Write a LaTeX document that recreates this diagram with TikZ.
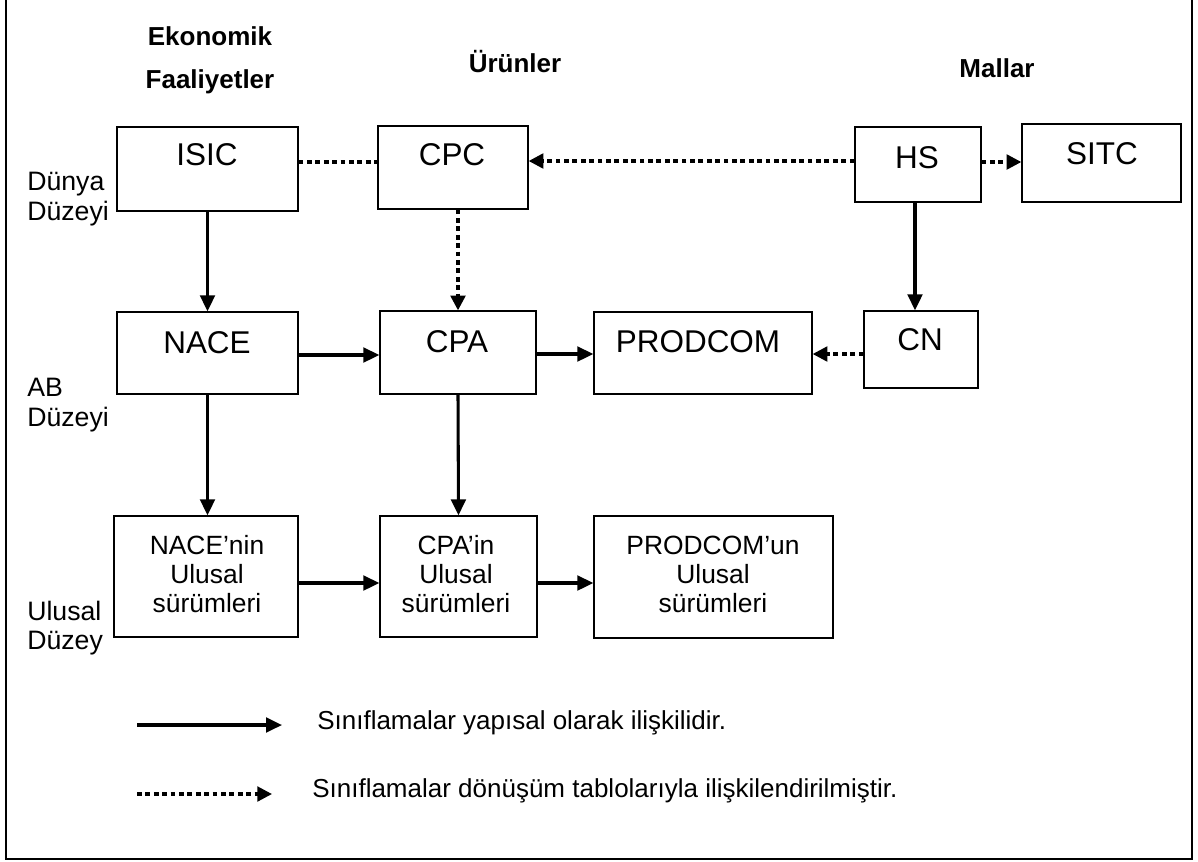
\documentclass[tikz,border=0pt]{standalone}
\usepackage{fontspec}
\setmainfont{Liberation Sans}
\usetikzlibrary{arrows.meta,calc}
\tikzset{
  bx/.style 2 args={draw, line width=1pt, inner sep=0pt, minimum width=#1*0.75pt, minimum height=#2*0.75pt},
  big/.style={font=\fontsize{23.6}{28}\selectfont, inner sep=0pt},
  small/.style={font=\fontsize{19.8}{21.8}\selectfont, align=center, inner sep=0pt},
  lvl/.style={font=\fontsize{20}{22}\selectfont, align=left, inner sep=0pt, anchor=west},
  head/.style={font=\fontsize{19.5}{22}\selectfont\bfseries, inner sep=0pt},
  leg/.style={font=\fontsize{19.5}{22}\selectfont, inner sep=0pt, anchor=west},
  arr/.style={line width=2.3pt, -{Triangle[length=12pt,width=11pt]}},
  dotl/.style={line width=2.3pt, dash pattern=on 3.6pt off 2.7pt},
  dotarr/.style={dotl, -{Triangle[length=11pt,width=11pt]}},
}
\begin{document}
\begin{tikzpicture}[x=0.75pt,y=-0.75pt]
\useasboundingbox (0,0) rectangle (1198,861);
\draw[line width=1.2pt] (6,-4) rectangle (1192,859);

% headers
\node[head] (h1) at (210,36) {Ekonomik};
\node[head] (h2) at (210,82) {Faaliyetler};
\node[head] (h3) at (515,62) {Ürünler};
\node[head] (h4) at (997,68) {Mallar};

% level labels
\node[lvl] (l1) at (27,199) {Dünya\\Düzeyi};
\node[lvl] (l2) at (27,405) {AB\\Düzeyi};
\node[lvl] (l3) at (27,628) {Ulusal\\Düzey};

% boxes
\node[bx={181}{84}] (isic) at (207.5,169) {};
\node[bx={150}{83}] (cpc) at (453,167.5) {};
\node[bx={126}{75}] (hs) at (918,164.5) {};
\node[bx={159}{78}] (sitc) at (1101.5,163) {};
\node[bx={181}{82}] (nace) at (207.5,353) {};
\node[bx={156}{83}] (cpa) at (458,352.5) {};
\node[bx={218}{82}] (prodcom) at (703,353) {};
\node[bx={114}{77}] (cn) at (921,349.5) {};
\node[bx={184}{121}] (nacen) at (206,576.5) {};
\node[bx={157}{121}] (cpan) at (458.5,576.5) {};
\node[bx={239}{122}] (prodn) at (713.5,577) {};

% box texts
\node[big] (t1) at (207,155) {ISIC};
\node[big] (t2) at (452,155) {CPC};
\node[big] (t3) at (917,158) {HS};
\node[big] (t4) at (1102,154) {SITC};
\node[big] (t5) at (207,343) {NACE};
\node[big] (t6) at (457,342) {CPA};
\node[big] (t7) at (698,342) {PRODCOM};
\node[big] (t8) at (920,340) {CN};
\node[small] (t9) at (207,574) {NACE’nin\\Ulusal\\sürümleri};
\node[small] (t10) at (456,574) {CPA’in\\Ulusal\\sürümleri};
\node[small] (t11) at (713,574) {PRODCOM’un\\Ulusal\\sürümleri};

% top row connectors
\coordinate (p1) at ($(isic.east)+(0,-7)$);
\draw[dotl] (p1) -- (p1 -| cpc.west);
\coordinate (p2) at ($(hs.west)+(0,-3.5)$);
\draw[dotarr] (p2) -- (p2 -| cpc.east);
\coordinate (p3) at ($(hs.east)+(0,-2.5)$);
\draw[dotarr] (p3) -- (p3 -| sitc.west);

% vertical connectors
\draw[arr] (isic.south) -- (nace.north);
\draw[dotarr] (cpa.north |- cpc.south) -- (cpa.north);
\coordinate (p4) at ($(hs.south)+(-3,0)$);
\draw[arr] (p4) -- (p4 |- cn.north);
\draw[arr] (nace.south) -- (nace.south |- nacen.north);
\draw[arr] (cpa.south) -- (cpan.north);

% middle row connectors
\coordinate (p5) at ($(nace.east)+(0,2)$);
\draw[arr] (p5) -- (p5 -| cpa.west);
\coordinate (p6) at ($(cpa.east)+(0,1.5)$);
\draw[arr] (p6) -- (p6 -| prodcom.west);
\coordinate (p7) at ($(cn.west)+(0,4.5)$);
\draw[dotarr] (p7) -- (p7 -| prodcom.east);

% bottom row connectors
\coordinate (p8) at ($(nacen.east)+(0,6.5)$);
\draw[arr] (p8) -- (p8 -| cpan.west);
\coordinate (p9) at ($(cpan.east)+(0,6.5)$);
\draw[arr] (p9) -- (p9 -| prodn.west);

% legend
\coordinate (la) at (137,725);
\coordinate (lb) at (282,725);
\draw[arr] (la) -- (lb);
\node[leg] (lt1) at (317,723) {Sınıflamalar yapısal olarak ilişkilidir.};
\coordinate (lc) at (137,794);
\coordinate (ld) at (272,794);
\draw[dotarr] (lc) -- (ld);
\node[leg] (lt2) at (312,791) {Sınıflamalar dönüşüm tablolarıyla ilişkilendirilmiştir.};
\end{tikzpicture}
\end{document}
